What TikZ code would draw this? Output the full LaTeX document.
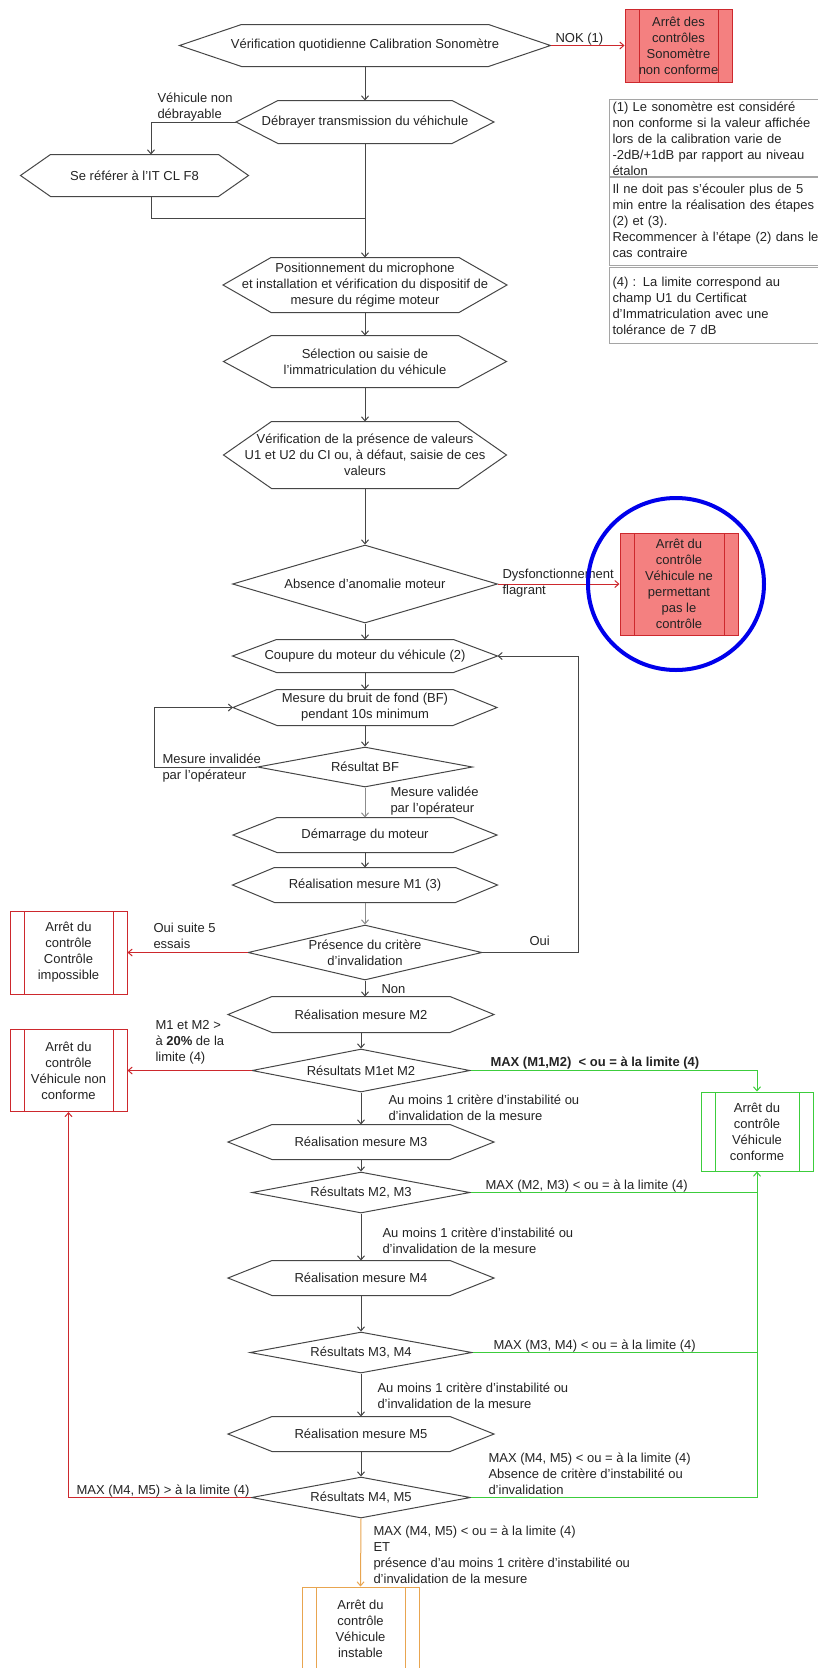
\documentclass[tikz,border=0pt]{standalone}
\usepackage{fontspec}
\setmainfont{Liberation Sans}
\usepackage{tikz}
\usetikzlibrary{arrows.meta,shapes.geometric,calc}
\definecolor{ink}{RGB}{35,35,35}
\definecolor{outl}{RGB}{70,70,70}
\definecolor{pale}{RGB}{140,140,140}
\definecolor{stopred}{RGB}{205,40,45}
\definecolor{stopfill}{RGB}{244,128,128}
\definecolor{okgreen}{RGB}{60,205,60}
\definecolor{warnorange}{RGB}{232,165,80}
\definecolor{notegray}{RGB}{165,165,165}
\definecolor{ringblue}{RGB}{0,0,235}

\begin{document}
\begin{tikzpicture}[x=1pt, y=-1pt, line width=1pt,
    every node/.style={font=\fontsize{13}{16}\selectfont, text=ink},
    >={Straight Barb[length=4pt,width=7pt]},
    hexa/.style={rectangle, inner sep=0pt, align=center, minimum height=34},
    deci/.style={diamond, draw=outl, inner sep=0pt},
    stopbox/.style={rectangle, draw=#1, inner sep=0pt, align=center,
      path picture={\draw[#1] ([xshift=14pt]path picture bounding box.north west) -- ([xshift=14pt]path picture bounding box.south west)
        ([xshift=-14pt]path picture bounding box.north east) -- ([xshift=-14pt]path picture bounding box.south east);}},
    note/.style={rectangle, draw=notegray, anchor=north west, align=left, text width=212pt, inner xsep=3pt, inner ysep=2pt},
    lbl/.style={inner sep=0pt, align=left},
    flow/.style={->, draw=outl},
    paleflow/.style={->, draw=pale},
    redflow/.style={->, draw=stopred},
    okflow/.style={->, draw=okgreen},
    warnflow/.style={->, draw=warnorange}]
						\useasboundingbox (0,0) rectangle (818,1668);
						\clip (0,0) rectangle (818,1668);
						% steps of the main column
						\node[hexa, minimum width=370, minimum height=41] (calib) at (365,45.5) {Vérification quotidienne Calibration Sonomètre};
						\node[hexa, minimum width=257, minimum height=42] (debr) at (365,122) {Débrayer transmission du véhichule};
						\node[hexa, minimum width=227, minimum height=41] (refIT) at (134.5,175.5) {Se référer à l'IT CL F8};
						\node[hexa, minimum width=283, minimum height=54] (posit) at (365,285) {Positionnement du microphone\\et installation et vérification du dispositif de\\mesure du régime moteur};
						\node[hexa, minimum width=282, minimum height=51] (selec) at (365,361.5) {Sélection ou saisie de\\l'immatriculation du véhicule};
						\node[hexa, minimum width=282, minimum height=66] (verif) at (365,455) {Vérification de la présence de valeurs\\U1 et U2 du CI ou, à défaut, saisie de ces\\valeurs};
						\node[deci, minimum width=265, minimum height=78, label={center:{Absence d'anomalie moteur}}] (absen) at (365,584) {};
						\node[hexa, minimum width=264, minimum height=32] (coup) at (365,656) {Coupure du moteur du véhicule (2)};
						\node[hexa, minimum width=263, minimum height=35] (bruit) at (365,707.5) {Mesure du bruit de fond (BF)\\pendant 10s minimum};
						\node[deci, minimum width=215, minimum height=40, label={center:{Résultat BF}}] (resBF) at (365,767) {};
						\node[hexa, minimum width=263] (demar) at (365,835) {Démarrage du moteur};
						\node[hexa, minimum width=264] (mesM1) at (365,885) {Réalisation mesure M1 (3)};
						\node[deci, minimum width=234, minimum height=55, label={[align=center]center:{Présence du critère\\d'invalidation}}] (presence) at (365,952.5) {};
						\node[hexa, minimum width=265, minimum height=35] (mesM2) at (361,1014.5) {Réalisation mesure M2};
						\node[deci, minimum width=218, minimum height=43, label={center:{Résultats M1et M2}}] (res12) at (361,1070.5) {};
						\node[hexa, minimum width=265] (mesM3) at (361,1142) {Réalisation mesure M3};
						\node[deci, minimum width=218, minimum height=41, label={center:{Résultats M2, M3}}] (res23) at (361,1192.5) {};
						\node[hexa, minimum width=265] (mesM4) at (361,1278) {Réalisation mesure M4};
						\node[deci, minimum width=222, minimum height=41, label={center:{Résultats M3, M4}}] (res34) at (361,1352.5) {};
						\node[hexa, minimum width=265] (mesM5) at (361,1434) {Réalisation mesure M5};
						\node[deci, minimum width=219, minimum height=41, label={center:{Résultats M4, M5}}] (res45) at (361,1497.5) {};
						\foreach \n/\s in {calib/62, debr/42, refIT/30, posit/48, selec/48, verif/48, coup/44, bruit/44, demar/44, mesM1/42, mesM2/44, mesM3/44, mesM4/44, mesM5/44}
							\draw[draw=outl] (\n.west) -- ($(\n.north west)+(\s,0)$) -- ($(\n.north east)-(\s,0)$) -- (\n.east) -- ($(\n.south east)-(\s,0)$) -- ($(\n.south west)+(\s,0)$) -- cycle;
						% end boxes
						\node[stopbox=stopred, fill=stopfill, minimum width=107, minimum height=73] (stopSono) at (678.5,45.5) {Arrêt des\\contrôles\\Sonomètre\\non conforme};
						\node[stopbox=stopred, fill=stopfill, minimum width=118, minimum height=102] (stopVeh) at (679,584) {Arrêt du\\contrôle\\Véhicule ne\\permettant\\pas le\\contrôle};
						\node[stopbox=stopred, minimum width=117, minimum height=83] (stopImp) at (68.5,952.5) {Arrêt du\\contrôle\\Contrôle\\impossible};
						\node[stopbox=stopred, minimum width=117, minimum height=82] (stopNC) at (68.5,1070.5) {Arrêt du\\contrôle\\Véhicule non\\conforme};
						\node[stopbox=okgreen, minimum width=112, minimum height=79] (stopOK) at (757,1131.5) {Arrêt du\\contrôle\\Véhicule\\conforme};
						\node[stopbox=warnorange, minimum width=117, minimum height=84] (stopUnst) at (360.5,1629) {Arrêt du\\contrôle\\Véhicule\\instable};
						% notes
						\node[note, minimum height=76] (noteA) at (609,99) {(1) Le sonomètre est considéré\\non conforme si la valeur affichée\\lors de la calibration varie de\\-2dB/+1dB par rapport au niveau\\étalon};
						\node[note, minimum height=89] (noteB) at (609,176) {Il ne doit pas s'écouler plus de 5\\min entre la réalisation des étapes\\(2) et (3).\\Recommencer à l'étape (2) dans le\\cas contraire};
						\node[note, minimum height=76] (noteC) at (609,267) {(4) : La limite correspond au\\champ U1 du Certificat\\d'Immatriculation avec une\\tolérance de 7 dB};
						% connectors
						\coordinate (kneeA) at (151,122);
						\coordinate (kneeB) at (151,218);
						\coordinate (loopL) at (154,767);
						\coordinate (loopR) at (578,952.5);
						\draw[flow] (calib.south) -- (debr.north);
						\draw[redflow] (calib.east) -- (stopSono.west);
						\draw[flow] (debr.west) -- (kneeA) -- (kneeA |- refIT.north);
						\draw[draw=outl] (kneeA |- refIT.south) -- (kneeB) -- (kneeB -| debr.south);
						\draw[flow] (debr.south) -- (posit.north);
						\draw[flow] (posit.south) -- (selec.north);
						\draw[flow] (selec.south) -- (verif.north);
						\draw[flow] (verif.south) -- (absen.north);
						\draw[redflow] (absen.east) -- (stopVeh.west);
						\draw[flow] (absen.south) -- (coup.north);
						\draw[flow] (coup.south) -- (bruit.north);
						\draw[flow] (bruit.south) -- (resBF.north);
						\draw[flow] (resBF.west) -- (loopL) -- (loopL |- bruit.west) -- (bruit.west);
						\draw[paleflow] (resBF.south) -- (demar.north);
						\draw[flow] (demar.south) -- (mesM1.north);
						\draw[paleflow] (mesM1.south) -- (presence.north);
						\draw[redflow] (presence.west) -- (stopImp.east);
						\draw[flow] (presence.east) -- (loopR) -- (loopR |- coup.east) -- (coup.east);
						\draw[flow] (presence.south) -- (presence.south |- mesM2.north);
						\draw[flow] (mesM2.south) -- (res12.north);
						\draw[redflow] (res12.west) -- (stopNC.east);
						\draw[okflow] (res12.east) -- (res12.east -| stopOK.north) -- (stopOK.north);
						\draw[flow] (res12.south) -- (mesM3.north);
						\draw[flow] (mesM3.south) -- (res23.north);
						\draw[draw=okgreen] (res23.east) -- (res23.east -| stopOK.south);
						\draw[flow] (res23.south) -- (mesM4.north);
						\draw[flow] (mesM4.south) -- (res34.north);
						\draw[draw=okgreen] (res34.east) -- (res34.east -| stopOK.south);
						\draw[flow] (res34.south) -- (mesM5.north);
						\draw[flow] (mesM5.south) -- (res45.north);
						\draw[redflow] (res45.west) -- (res45.west -| stopNC.south) -- (stopNC.south);
						\draw[okflow] (res45.east) -- (res45.east -| stopOK.south) -- (stopOK.south);
						\draw[warnflow] (res45.south) -- (stopUnst.north);
						% connector labels
						\node[lbl, anchor=base west] (labNOK) at (555,42) {NOK (1)};
						\node[lbl, anchor=west] (labDebr) at (157,106.6) {Véhicule non\\débrayable};
						\node[lbl, anchor=west] (labDys) at (502,583.6) {Dysfonctionnement\\flagrant};
						\node[lbl, anchor=west] (labInv) at (162,767.6) {Mesure invalidée\\par l'opérateur};
						\node[lbl, anchor=west] (labVal) at (390,801) {Mesure validée\\par l'opérateur};
						\node[lbl, anchor=west] (labOui5) at (153,936) {Oui suite 5\\essais};
						\node[lbl, anchor=base west] (labOui) at (529,945) {Oui};
						\node[lbl, anchor=base west] (labNon) at (381,993) {Non};
						\node[lbl, anchor=west] (labM12) at (155,1042) {M1 et M2 >\\à \textbf{20\%} de la\\limite (4)};
						\node[lbl, anchor=base west, font=\fontsize{13}{16}\selectfont\bfseries] (labMax12) at (490,1066) {MAX (M1,M2)\ \ < ou = à la limite (4)};
						\node[lbl, anchor=west] (labAu1) at (388,1108) {Au moins 1 critère d'instabilité ou\\d'invalidation de la mesure};
						\node[lbl, anchor=base west] (labMax23) at (485,1189) {MAX (M2, M3) < ou = à la limite (4)};
						\node[lbl, anchor=west] (labAu2) at (382,1241) {Au moins 1 critère d'instabilité ou\\d'invalidation de la mesure};
						\node[lbl, anchor=base west] (labMax34) at (493,1349) {MAX (M3, M4) < ou = à la limite (4)};
						\node[lbl, anchor=west] (labAu3) at (377,1396) {Au moins 1 critère d'instabilité ou\\d'invalidation de la mesure};
						\node[lbl, anchor=west] (labOk45) at (488,1473.5) {MAX (M4, M5) < ou = à la limite (4)\\Absence de critère d'instabilité ou\\d'invalidation};
						\node[lbl, anchor=base west] (labNC45) at (76,1494) {MAX (M4, M5) > à la limite (4)};
						\node[lbl, anchor=west] (labUnst) at (373,1554.5) {MAX (M4, M5) < ou = à la limite (4)\\ET\\présence d'au moins 1 critère d'instabilité ou\\d'invalidation de la mesure};
						% ring round the stop box
						\draw[ringblue, line width=4pt] (676,584) ellipse (88 and 86);
					\end{tikzpicture}
\end{document}
